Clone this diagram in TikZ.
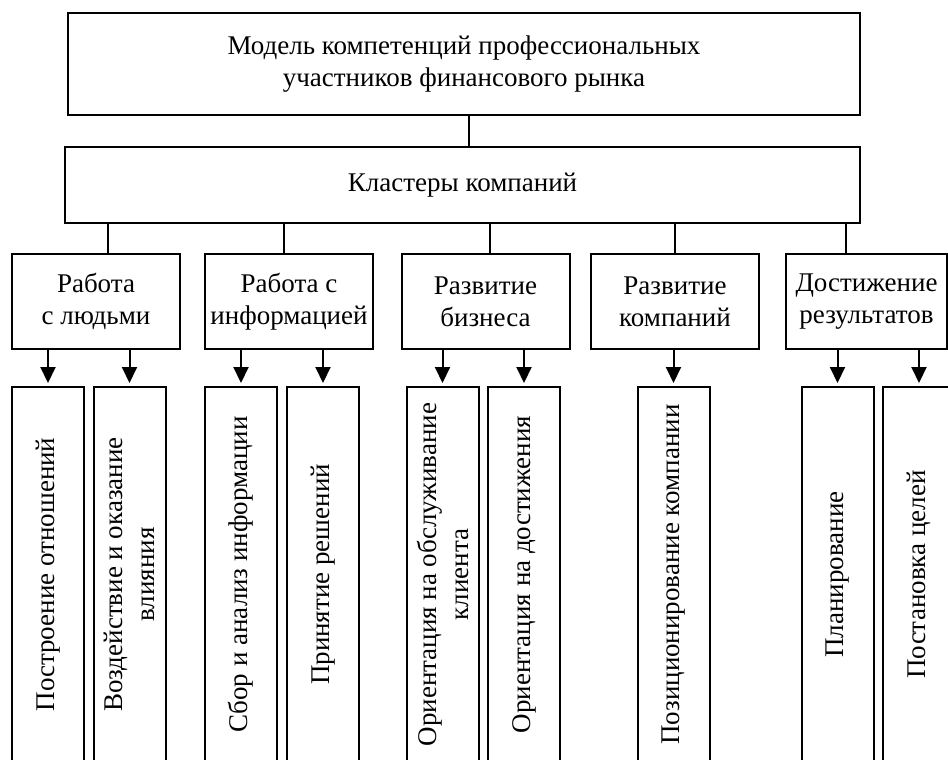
\documentclass[tikz,border=0pt]{standalone}
\usepackage{fontspec}
\setmainfont{Liberation Serif}
\usetikzlibrary{arrows.meta}

\begin{document}
\begin{tikzpicture}[x=1pt, y=-1pt, line width=2pt,
  box/.style={draw, align=center, inner sep=0pt, font=\fontsize{27}{32}\selectfont},
  cluster/.style={box, minimum width=168pt, minimum height=95pt},
  leaf/.style={box, rotate=90, minimum width=375pt, minimum height=72pt},
  link/.style={line width=1.4pt},
  arrow/.style={-{Triangle[width=15pt, length=16pt]}, shorten >=3pt}]
  \useasboundingbox (0,0) rectangle (948,760);
  \node [box, minimum width=792pt, minimum height=102pt] (model) at (464,64)
    {Модель компетенций профессиональных\\участников финансового рынка};
  \node [box, minimum width=795pt, minimum height=76pt] (clusters) at (462.5,185)
    {Кластеры компаний};
  \draw [link] ([xshift=5pt]model.south) -- ([xshift=5pt]model.south |- clusters.north);

  \node [cluster] (c1) at (96,301.5) {Работа\\с людьми};
  \node [cluster] (c2) at (289,301.5) {Работа с\\информацией};
  \node [cluster] (c3) at (485.5,301.5) {Развитие\\бизнеса};
  \node [cluster] (c4) at (675,301.5) {Развитие\\компаний};
  \node [cluster, minimum width=161pt] (c5) at (866.5,301.5) {Достижение\\результатов};
  \foreach \c/\dx in {c1/12, c2/-5, c3/4.5, c4/0, c5/-20.5}
    \draw [link] ([xshift=\dx pt]\c.north) -- ++(0,-31);

  \node [leaf] (l1) at (48,574.5) {Построение отношений};
  \node [leaf] (l2) at (129.5,574.5) {Воздействие и оказание\\влияния};
  \node [leaf] (l3) at (241,574.5) {Сбор и анализ информации};
  \node [leaf] (l4) at (323,574.5) {Принятие решений};
  \node [leaf] (l5) at (442.5,574.5) {Ориентация на обслуживание\\клиента};
  \node [leaf] (l6) at (524,574.5) {Ориентация на достижения};
  \node [leaf] (l7) at (673.5,574.5) {Позиционирование компании};
  \node [leaf] (l8) at (837.5,574.5) {Планирование};
  \node [leaf] (l9) at (919,574.5) {Постановка целей};
  \foreach \c/\l in {c1/l1, c1/l2, c2/l3, c2/l4, c3/l5, c3/l6, c4/l7, c5/l8, c5/l9}
    \draw [arrow] (\c.south -| \l.east) -- (\l.east);
\end{tikzpicture}
\end{document}
